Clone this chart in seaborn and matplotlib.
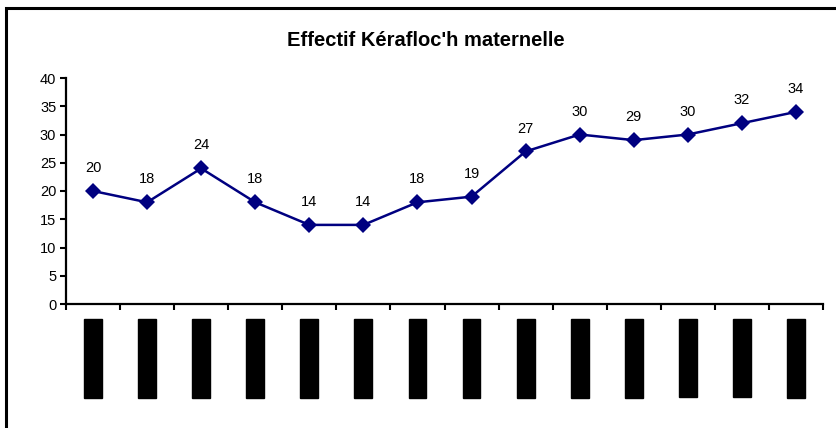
import matplotlib
matplotlib.use("Agg")
import matplotlib.pyplot as plt
from matplotlib.patches import Rectangle
import seaborn as sns
import pandas as pd

# ---- data ----
years = ["1990-1991", "1991-1992", "1992-1993", "1993-1994", "1994-1995",
         "1995-1996", "1996-1997", "1997-1998", "1998-1999", "1999-2000",
         "2000-2001", "2001-2002", "2002-2003", "2003-2004"]
effectif = [20, 18, 24, 18, 14, 14, 18, 19, 27, 30, 29, 30, 32, 34]
title = "Effectif Kérafloc'h maternelle"
yticks = [0, 5, 10, 15, 20, 25, 30, 35, 40]

sns.set_theme(style="white")
plt.rcParams['font.family'] = ['Liberation Sans', 'DejaVu Sans']

df = pd.DataFrame({"pos": range(len(years)), "effectif": effectif})

W, H = 836, 428
fig = plt.figure(figsize=(W / 100, H / 100), dpi=100)
ax = fig.add_axes([66 / W, 1 - 304 / H, (823 - 66) / W, (304 - 78) / H])

sns.lineplot(data=df, x="pos", y="effectif", ax=ax, color="#000080",
             linewidth=1.8, marker="D", markersize=8, markeredgewidth=0,
             sort=False)

# data labels
for i, v in enumerate(effectif):
    ax.annotate(str(v), (i, v), xytext=(0, 16.5), textcoords="offset points",
                ha="center", va="center", fontsize=10.5, color="black")

ax.set_xlim(-0.5, len(years) - 0.5)
ax.set_ylim(0, 40)
ax.set_yticks(yticks)
ax.set_yticklabels([str(t) for t in yticks], fontsize=10.5)
ax.set_xlabel("")
ax.set_ylabel("")

# boundaries as major ticks, labels on minor ticks at centres
ax.set_xticks([i - 0.5 for i in range(len(years) + 1)])
ax.set_xticklabels([])
ax.set_xticks(list(range(len(years))), minor=True)
ax.set_xticklabels(years, minor=True, rotation=90, fontsize=11.5,
                   color="black", va="top", ha="center")
for lab in ax.get_xticklabels(minor=True):
    lab.set_bbox(dict(facecolor="black", edgecolor="black", pad=1.0))

ax.tick_params(axis="x", which="major", direction="out", length=4, width=1.5,
               color="black", bottom=True)
ax.tick_params(axis="x", which="minor", length=0, pad=11.5, bottom=True)
ax.tick_params(axis="y", direction="out", length=4, width=1.5, color="black",
               left=True, pad=3, labelcolor="black")

for s in ["top", "right"]:
    ax.spines[s].set_visible(False)
for s in ["left", "bottom"]:
    ax.spines[s].set_color("black")
    ax.spines[s].set_linewidth(1.6)

fig.text(426 / W, 1 - 41 / H, title, ha="center", va="center",
         fontsize=14.5, fontweight="bold", color="black")

# outer chart frame (cropped at right and bottom)
fig.patches.append(Rectangle((6 / W, -0.2), 1.2, 1.2 - 8 / H,
                             transform=fig.transFigure, fill=False,
                             edgecolor="black", linewidth=2.2))

fig.savefig("out.png", dpi=100)
